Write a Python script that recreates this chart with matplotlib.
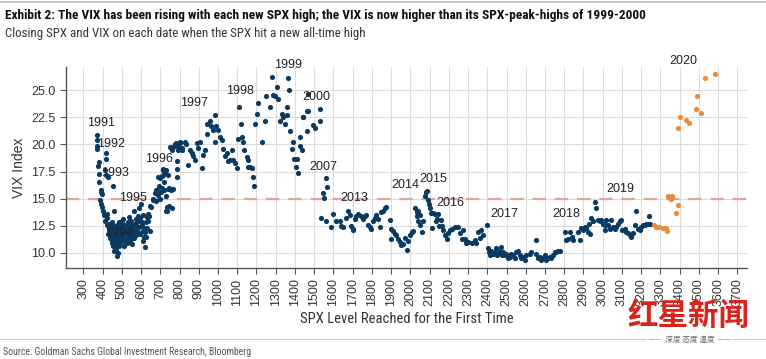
import numpy as np
import matplotlib
matplotlib.use("Agg")
import matplotlib.pyplot as plt
from matplotlib import font_manager

# Data: (SPX level, VIX close) on each new all-time high
era_1991_1993 = [
    (370, 20.85), (371, 20.4), (370, 19.6), (372, 19.9), (418, 19.2), (418, 18.7),
    (381, 18.4), (378, 18.0), (380, 17.3), (414, 17.6), (418, 17.2), (427, 17.0),
    (383, 16.5), (456, 16.2), (390, 15.8), (393, 15.6), (395, 15.4), (387, 14.9),
    (394, 14.55), (396, 14.2), (400, 13.9), (459, 13.9), (425, 13.6), (409, 13.5),
    (414, 12.9), (425, 13.2), (422, 12.6), (432, 12.7), (435, 12.25), (432, 12.1),
    (427, 11.7), (437, 11.4), (449, 11.1), (453, 10.6), (461, 10.2), (478, 10.0),
]
era_1994_1995 = [
    (440, 12.2), (445, 11.5), (448, 12.8), (450, 11.9), (452, 11.2), (455, 12.4),
    (458, 11.0), (460, 12.0), (462, 10.8), (465, 11.6), (467, 12.5), (470, 10.3),
    (470, 11.3), (473, 9.7), (475, 11.9), (478, 10.9), (480, 12.3), (482, 11.5),
    (485, 10.6), (487, 12.8), (490, 11.8), (492, 11.2), (495, 12.4), (497, 11.6),
    (500, 12.9), (502, 12.0), (505, 11.4), (507, 13.1), (510, 12.2), (512, 11.7),
    (515, 12.6), (518, 11.1), (520, 12.4), (523, 11.8), (525, 10.9), (528, 12.0),
    (530, 12.8), (533, 11.5), (535, 13.3), (538, 12.2), (540, 11.0), (543, 12.6),
    (545, 11.7), (548, 12.9), (550, 11.3), (553, 12.3), (556, 11.8), (560, 12.6),
    (565, 13.9), (570, 12.1), (575, 11.6), (580, 12.9), (585, 11.9), (588, 14.1),
    (592, 12.4), (597, 11.7), (600, 14.5), (605, 12.8), (610, 11.1), (612, 12.0),
    (618, 11.5), (622, 10.55), (626, 11.5), (630, 12.3), (635, 12.9), (640, 13.4),
    (645, 12.0), (440, 11.9), (445, 12.6), (450, 10.9), (455, 11.7), (465, 10.5),
    (468, 12.1), (472, 11.1), (476, 12.6), (483, 11.9), (488, 10.8), (493, 12.2),
    (498, 11.0), (503, 12.6), (508, 11.9), (513, 10.6), (517, 12.3), (522, 12.0),
    (527, 11.3), (532, 12.4), (537, 11.9), (542, 12.2), (547, 11.5), (552, 10.8),
    (558, 12.1), (562, 11.4), (567, 12.7), (572, 13.1), (578, 12.5), (583, 13.4),
    (590, 12.9), (595, 13.2), (603, 12.6), (608, 13.5), (615, 12.3), (620, 11.9),
    (625, 12.8), (632, 13.3),
]
era_1996 = [
    (638, 13.6), (647, 14.3), (652, 14.2), (660, 15.0), (664, 14.85), (673, 15.5),
    (678, 15.8), (681, 15.8), (686, 17.0), (698, 16.9), (703, 15.6), (707, 17.1),
    (712, 17.6), (714, 17.2), (716, 17.7), (720, 15.8), (725, 17.4), (729, 17.6),
    (729, 15.2), (729, 13.9), (733, 13.9), (737, 14.2), (738, 15.9), (742, 17.2),
    (747, 14.3), (750, 19.8), (755, 15.8), (759, 19.5), (760, 14.1), (764, 15.9),
    (764, 19.8), (776, 20.0), (781, 20.1), (785, 18.5), (785, 17.0), (785, 17.7),
    (790, 19.8), (794, 19.5), (800, 20.1), (802, 20.2), (811, 19.7), (700, 15.0),
    (678, 14.8), (690, 15.3), (695, 16.2), (710, 16.0), (718, 16.5), (745, 16.0),
]
era_1997_1998 = [
    (811, 19.5), (828, 20.2), (834, 20.0), (845, 18.1), (855, 19.5), (863, 19.2),
    (872, 18.9), (880, 18.6), (893, 20.1), (898, 19.7), (906, 20.2), (915, 17.8),
    (924, 19.0), (932, 19.5), (941, 21.0), (944, 21.9), (958, 22.2), (966, 21.7),
    (975, 21.3), (984, 22.7), (984, 20.2), (992, 21.7), (1001, 21.3), (1010, 20.7),
    (1019, 20.4), (1027, 19.6), (1036, 18.9), (1045, 19.2), (1053, 18.5), (1062, 18.6),
    (1071, 19.5), (1080, 18.6), (1088, 18.3), (1097, 17.8), (1105, 20.5), (1110, 23.5),
    (1119, 21.9), (1123, 20.7), (1131, 20.2), (1135, 19.5), (1149, 18.8), (1158, 18.6),
    (1158, 17.9), (1166, 17.9), (1175, 17.8), (1183, 17.0), (1187, 16.2),
]
era_1998_2000 = [
    (1192, 21.9), (1201, 22.8), (1209, 23.8), (1227, 20.2), (1244, 22.2), (1249, 24.5),
    (1270, 23.5), (1279, 26.2), (1287, 24.6), (1296, 24.5), (1305, 25.3), (1313, 24.2),
    (1322, 22.2), (1331, 22.8), (1339, 22.5), (1348, 21.9), (1357, 22.7), (1360, 23.5),
    (1365, 26.1), (1370, 25.0), (1374, 21.2), (1383, 19.6), (1391, 20.2), (1396, 18.7),
    (1405, 17.9), (1412, 18.7), (1417, 17.4), (1426, 20.7), (1428, 19.9), (1435, 19.5),
    (1440, 22.5), (1461, 21.2), (1469, 23.1), (1469, 24.7), (1461, 23.1), (1443, 22.5),
    (1495, 21.8), (1503, 21.5), (1530, 23.3), (1530, 22.2),
]
era_2007 = [(1559, 16.9), (1569, 16.1), (1547, 15.5), (1553, 15.1)]
era_2013_2016 = [
    (1538, 13.2), (1564, 12.9), (1596, 13.6), (1590, 12.4), (1616, 12.9), (1633, 12.9),
    (1642, 12.5), (1650, 12.4), (1668, 13.2), (1677, 13.9), (1685, 13.5), (1694, 12.5),
    (1703, 12.2), (1703, 12.1), (1711, 13.1), (1720, 13.4), (1729, 13.6), (1746, 13.4),
    (1755, 13.1), (1763, 13.4), (1772, 13.5), (1781, 12.6), (1790, 12.4), (1798, 12.2),
    (1807, 12.9), (1815, 13.2), (1824, 13.5), (1833, 13.1), (1842, 12.4), (1850, 13.8),
    (1859, 13.9), (1868, 14.1), (1876, 14.2), (1893, 13.0), (1902, 12.2), (1911, 12.0),
    (1919, 11.7), (1902, 11.3), (1928, 11.6), (1937, 11.3), (1945, 11.0), (1954, 10.7),
    (1963, 10.8), (1971, 11.4), (1983, 10.3), (1989, 11.1), (1997, 11.6), (2006, 11.9),
    (2015, 12.0), (2023, 14.1), (2032, 13.8), (2041, 13.9), (2032, 13.4), (2041, 12.9),
    (2049, 13.5), (2049, 12.6), (2058, 11.9), (2067, 12.9), (2075, 15.2), (2080, 15.6),
    (2087, 15.7), (2093, 14.9), (2098, 14.55), (2101, 14.1), (2105, 13.7), (2110, 12.25),
    (2119, 13.7), (2127, 13.6), (2133, 12.9), (2136, 13.1), (2144, 13.6), (2150, 12.5),
    (2157, 13.0), (2162, 12.5), (2170, 12.1), (2179, 11.6), (2188, 11.3), (2196, 11.8),
    (2205, 12.1), (2214, 12.2), (2231, 12.4), (2248, 12.4), (2257, 11.8), (2266, 11.3),
    (2274, 12.1), (2291, 10.9),
]
era_2016_2018 = [
    (2283, 11.3), (2300, 11.0), (2318, 10.9), (2335, 11.2), (2343, 10.9), (2352, 11.9),
    (2361, 11.4), (2369, 12.1), (2378, 11.6), (2399, 12.55), (2404, 10.4), (2409, 10.1),
    (2413, 9.8), (2421, 10.2), (2430, 9.9), (2438, 10.1), (2447, 10.4), (2451, 9.8),
    (2456, 9.9), (2465, 10.2), (2473, 10.5), (2478, 9.8), (2482, 10.1), (2490, 9.8),
    (2499, 9.9), (2508, 9.5), (2516, 9.6), (2525, 9.9), (2534, 9.8), (2542, 9.5),
    (2551, 10.1), (2560, 10.2), (2568, 9.8), (2577, 9.5), (2586, 9.6), (2594, 9.3),
    (2603, 9.8), (2620, 9.9), (2629, 10.1), (2652, 11.2), (2655, 9.9), (2664, 9.5),
    (2672, 9.6), (2681, 9.3), (2690, 9.5), (2698, 9.8), (2707, 9.3), (2716, 9.5),
    (2724, 9.6), (2733, 9.5), (2742, 9.8), (2750, 10.1), (2759, 10.1), (2768, 10.2),
    (2776, 10.2),
]
era_2018_2019 = [
    (2802, 11.9), (2811, 11.2), (2820, 11.3), (2828, 11.9), (2846, 11.2), (2842, 11.5),
    (2872, 11.9), (2880, 11.2), (2889, 12.25), (2898, 12.1), (2906, 12.4), (2915, 12.3),
    (2924, 11.9), (2929, 12.7), (2936, 11.7), (2941, 13.2), (2950, 12.9), (2958, 14.7),
    (2967, 14.1), (2976, 13.0), (2984, 12.9), (2993, 13.0), (3002, 12.7), (3010, 12.6),
    (3019, 13.0), (3028, 12.6), (3010, 12.1), (3036, 12.2), (3045, 13.0), (3054, 12.4),
    (3062, 12.2), (3071, 12.4), (3080, 12.7), (3088, 12.9), (3097, 13.0), (3102, 12.1),
    (3114, 12.2), (3123, 11.9), (3132, 11.8), (3140, 11.6), (3149, 11.5), (3158, 11.8),
    (3166, 12.55), (3175, 13.9), (3184, 12.2), (3192, 12.1), (3201, 12.4), (3210, 12.55),
    (3218, 12.55), (3227, 12.7), (3236, 12.7), (3241, 13.4), (3244, 12.7),
]
era_2020 = [
    (3265, 12.55), (3279, 12.4), (3292, 12.4), (3313, 12.25), (3327, 12.25), (3334, 12.0),
    (3339, 15.2), (3348, 15.1), (3353, 14.95), (3361, 15.2), (3389, 14.4), (3383, 13.7),
    (3393, 21.5), (3401, 22.5), (3435, 22.3), (3447, 22.0), (3483, 23.3), (3490, 24.5),
    (3513, 22.9), (3532, 26.1), (3585, 26.5),
]

year_labels = ["1991", "1992", "1993", "1994", "1995", "1996", "1997", "1998", "1999",
               "2000", "2007", "2013", "2014", "2015", "2016", "2017", "2018", "2019", "2020"]
label_spx = [394, 444, 465, 488, 557, 695, 875, 1115, 1363,
             1512, 1549, 1709, 1974, 2117, 2208, 2486, 2813, 3090, 3420]
label_vix = [21.95, 20.0, 17.35, 11.8, 15.05, 18.7, 23.8, 24.9, 27.35,
             24.4, 17.9, 15.05, 16.3, 16.8, 14.6, 13.6, 13.6, 15.85, 27.7]

x_ticks = list(range(300, 3800, 100))
y_ticks = [10.0, 12.5, 15.0, 17.5, 20.0, 22.5, 25.0]
threshold = 15.0

title = ("Exhibit 2: The VIX has been rising with each new SPX high; "
         "the VIX is now higher than its SPX-peak-highs of 1999-2000")
subtitle = "Closing SPX and VIX on each date when the SPX hit a new all-time high"
source = "Source: Goldman Sachs Global Investment Research, Bloomberg"

navy = "#0b3a61"
orange = "#eb8a3b"

installed = {f.name for f in font_manager.fontManager.ttflist}
narrow = "Liberation Sans"
for cand in ["Roboto Condensed", "Archivo Narrow", "IBM Plex Sans Condensed",
             "Liberation Sans Narrow"]:
    if cand in installed:
        narrow = cand
        break
plt.rcParams["font.family"] = ["Liberation Sans", "DejaVu Sans"]

fig = plt.figure(figsize=(7.66, 3.59), dpi=100)
ax = fig.add_axes([66 / 766, 1 - 268 / 359, (747 - 66) / 766, (268 - 67) / 359])

blue = np.array(era_1991_1993 + era_1994_1995 + era_1996 + era_1997_1998 + era_1998_2000
                + era_2007 + era_2013_2016 + era_2016_2018 + era_2018_2019)
new = np.array(era_2020)

ax.axhline(threshold, color="#e3a39c", lw=1.6, dashes=(6, 4), zorder=1)
ax.scatter(blue[:, 0], blue[:, 1], s=14, color=navy, linewidths=0, zorder=3)
ax.scatter(new[:, 0], new[:, 1], s=14, color=orange, linewidths=0, zorder=3)

for t, x, y in zip(year_labels, label_spx, label_vix):
    ax.text(x, y, t, ha="center", va="center", fontsize=9, color="#222222", zorder=4)

ax.set_xlim(210, 3750)
ax.set_ylim(8.6, 27.15)
ax.set_xticks(x_ticks)
ax.set_xticklabels([str(v) for v in x_ticks], rotation=90)
ax.set_yticks(y_ticks)
ax.set_yticklabels([f"{v:.1f}" for v in y_ticks])
ax.grid(True, color="#dcdcdc", lw=0.8)
ax.set_axisbelow(True)
for side in ["top", "right"]:
    ax.spines[side].set_visible(False)
for side in ["left", "bottom"]:
    ax.spines[side].set_color("#555555")
    ax.spines[side].set_linewidth(1.0)
ax.tick_params(axis="both", labelsize=9, colors="#555555", labelcolor="#333333",
               length=4, width=0.8, direction="out")
xlab = ax.set_xlabel("SPX Level Reached for the First Time", fontsize=10, color="#333333",
                     labelpad=4, family=narrow)
ax.set_ylabel("VIX Index", fontsize=10, color="#333333", labelpad=4)

# header and footer
fig.add_artist(plt.Line2D([0, 1], [1 - 1.5 / 359] * 2, color="#bbbbbb", lw=1.2))
t_title = fig.text(5 / 766, 1 - 15 / 359, title, fontsize=9.5, fontweight="bold",
                   family=narrow, color="#111111", va="center")
t_sub = fig.text(5 / 766, 1 - 33 / 359, subtitle, fontsize=9, family=narrow,
                 color="#333333", va="center")
fig.add_artist(plt.Line2D([0, 1], [1 - 339 / 359] * 2, color="#cccccc", lw=0.8))
t_src = fig.text(3 / 766, 1 - 352 / 359, source, fontsize=7, family=narrow,
                 color="#555555", va="center")

# scale header/footer font sizes so their widths match the reference
renderer = fig.canvas.get_renderer()
for txt, target in [(t_title, 645), (t_sub, 361), (t_src, 250), (xlab, 211)]:
    w = txt.get_window_extent(renderer).width
    txt.set_fontsize(txt.get_fontsize() * target / w)

# watermark
fig.text(688 / 766, 1 - 316 / 359, "红星新闻", fontsize=22, fontweight="bold",
         family=["Noto Sans CJK SC", "DejaVu Sans"], color="#d8241c", ha="center",
         va="center", zorder=5)
fig.text(690 / 766, 1 - 340 / 359, "——  深度 态度 温度  ——", fontsize=5.5,
         family=["Noto Sans CJK SC", "DejaVu Sans"], color="#666666", ha="center", va="center",
         bbox=dict(facecolor="white", edgecolor="none", pad=1))

fig.savefig("out.png", dpi=100)
